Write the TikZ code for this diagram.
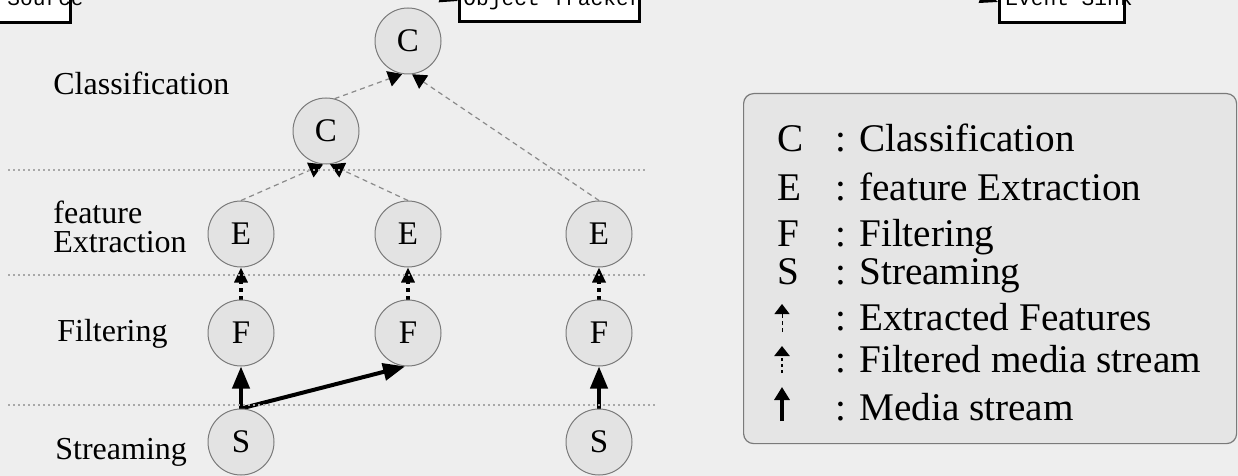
\documentclass[tikz,border=0pt]{standalone}
\usepackage{fontspec}
\setmainfont{Liberation Serif}
\setmonofont{Liberation Mono}
\usetikzlibrary{arrows.meta,calc}
\pgfdeclarelayer{bg}
\pgfdeclarelayer{edges}
\pgfsetlayers{bg,edges,main}
\definecolor{bgc}{HTML}{EEEEEE}
\definecolor{nodefill}{HTML}{E3E3E3}
\definecolor{legfill}{HTML}{E5E5E5}
\definecolor{circgray}{HTML}{7A7A7A}
\definecolor{edgegray}{HTML}{8A8A8A}
\definecolor{layergray}{HTML}{A8A8A8}
\begin{document}
\begin{tikzpicture}[x=0.5pt,y=-0.5pt,
  proc/.style={circle, draw=circgray, fill=nodefill, line width=0.5pt,
    minimum size=33pt, inner sep=0pt, font=\fontsize{16.5}{18}\selectfont},
  media/.style={line width=2pt, -{Triangle[length=11pt,width=8.5pt]}},
  filtered/.style={line width=1.6pt, dash pattern=on 2pt off 2pt,
    -{Triangle[length=7.5pt,width=6.5pt]}},
  feat/.style={draw=edgegray, line width=0.6pt, dash pattern=on 2.5pt off 2pt,
    -{Triangle[length=7pt,width=8pt,color=black]}},
  layerline/.style={draw=layergray, line width=0.6pt, dash pattern=on 1pt off 1.5pt},
  tbox/.style={draw=black, fill=white, line width=1.5pt, inner sep=0pt},
  ttext/.style={anchor=base west, inner sep=0pt, font=\fontsize{10.6}{12}\ttfamily},
  lvl/.style={anchor=base west, inner sep=0pt, font=\fontsize{16}{14.5}\selectfont, align=left},
  legl/.style={anchor=base west, inner sep=0pt, font=\fontsize{19.6}{23}\selectfont},
  toparrow/.style={line width=1pt, -{Triangle[length=9pt,width=7pt]}}
]
\useasboundingbox (0,0) rectangle (1238,476);
\clip (0,0) rectangle (1238,476);
\begin{pgfonlayer}{bg}
  \fill[bgc] (0,0) rectangle (1238,476);
\end{pgfonlayer}

% layer separators
\draw[layerline] (8,170) -- (648,170);
\draw[layerline] (8,275) -- (648,275);
\draw[layerline] (8,405) -- (655,405);

% level labels
\node[lvl] (lclass) at (53,95) {Classification};
\node[lvl] (lfeat) at (53,252) {feature\\Extraction};
\node[lvl] (lfilt) at (57,341) {Filtering};
\node[lvl] (lstream) at (55,459) {Streaming};

% top boxes
\node[tbox, minimum width=132pt, minimum height=21pt, anchor=south east] (src) at (72,24) {};
\node[ttext] (srct) at (7,6) {Source};
\node[tbox, minimum width=90pt, minimum height=21pt, anchor=south west] (ot) at (458,23) {};
\node[ttext] (ott) at (463,6) {Object Tracker};
\node[tbox, minimum width=62.5pt, minimum height=21pt, anchor=south west] (es) at (998,24) {};
\node[ttext] (est) at (1005,6) {Event Sink};
\coordinate (otin) at (400,-18);
\coordinate (esin) at (940,-18);
\coordinate (ottip) at (458,1);
\coordinate (estip) at (998,2);
\draw[toparrow] (otin) -- (ottip);
\draw[toparrow] (esin) -- (estip);

% processing nodes
\node[proc] (c1) at (408,41) {C};
\node[proc] (c2) at (326,131) {C};
\node[proc] (e1) at (241,234) {E};
\node[proc] (e2) at (408,234) {E};
\node[proc] (e3) at (599,234) {E};
\node[proc] (f1) at (241,333) {F};
\node[proc] (f2) at (408,333) {F};
\node[proc] (f3) at (599,333) {F};
\node[proc] (s1) at (241,442) {S};
\node[proc] (s3) at (599,442) {S};

\begin{pgfonlayer}{edges}
  \draw[feat] (e1.north) -- (c2.265);
  \draw[feat] (e2.north) -- (c2.277);
  \draw[feat] (c2.75) -- (c1.260);
  \draw[feat] (e3.north) -- (c1.277);
  \draw[filtered] (f1.north) -- (e1.south);
  \draw[filtered] (f2.north) -- (e2.south);
  \draw[filtered] (f3.north) -- (e3.south);
  \draw[media] (s1.north) -- (f1.south);
  \draw[media] (s1.north) -- (f2.265);
  \draw[media] (s3.north) -- (f3.south);
\end{pgfonlayer}

% legend
\node[draw=circgray, fill=legfill, line width=0.6pt, rounded corners=5pt,
  minimum width=246.5pt, minimum height=175pt, anchor=north west] (legend) at (743,93) {};
\node[legl] (kc) at (777,152) {C};
\node[legl] (kct) at (835,152) {: Classification};
\node[legl] (ke) at (777,200) {E};
\node[legl] (ket) at (835,200) {: feature Extraction};
\node[legl] (kf) at (777,247) {F};
\node[legl] (kft) at (835,247) {: Filtering};
\node[legl] (ks) at (777,285) {S};
\node[legl] (kst) at (835,285) {: Streaming};
\node[legl] (kx) at (835,330) {: Extracted Features};
\node[legl] (kfm) at (835,372) {: Filtered media stream};
\node[legl] (km) at (835,420) {: Media stream};
\coordinate (sa0) at (782,332);
\coordinate (sa1) at (782,304);
\coordinate (sb0) at (782,373);
\coordinate (sb1) at (782,346);
\coordinate (sc0) at (782,421);
\coordinate (sc1) at (782,387);
\draw[line width=0.5pt, dash pattern=on 2pt off 1.5pt, -{Triangle[length=5pt,width=7.5pt]}] (sa0) -- (sa1);
\draw[line width=1.4pt, dash pattern=on 1.5pt off 1.5pt, -{Triangle[length=5pt,width=7.5pt]}] (sb0) -- (sb1);
\draw[line width=1.6pt, -{Triangle[length=6.5pt,width=7.5pt]}] (sc0) -- (sc1);
\end{tikzpicture}
\end{document}
